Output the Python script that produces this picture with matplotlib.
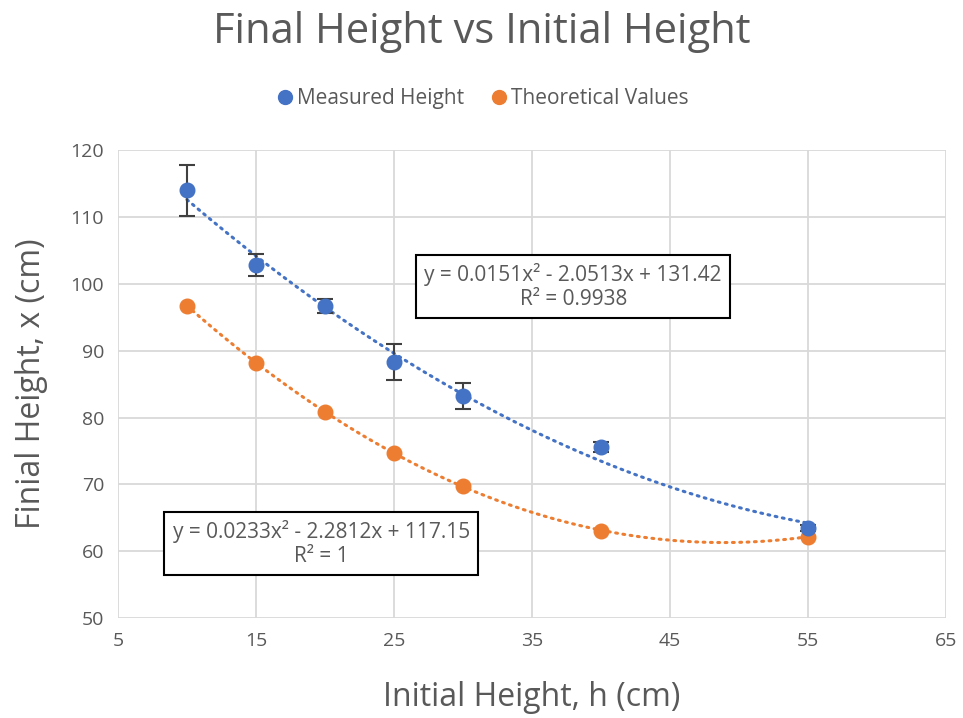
import matplotlib
matplotlib.use('Agg')
import matplotlib.pyplot as plt
from matplotlib.lines import Line2D
import numpy as np

plt.rcParams['font.family'] = ['Open Sans', 'DejaVu Sans']

init_h = [10, 15, 20, 25, 30, 40, 55]
measured = [114.0, 102.8, 96.7, 88.3, 83.2, 75.6, 63.5]
measured_err = [3.8, 1.6, 1.1, 2.7, 1.9, 0.7, 0.4]
theoretical = [96.7, 88.2, 80.9, 74.7, 69.7, 63.1, 62.2]

blue = '#4472c4'
orange = '#ed7d31'
grey = '#595959'

fig = plt.figure(figsize=(9.63, 7.18), dpi=100)
ax = fig.add_axes([0.1225, 0.139, 0.8595, 0.652])

# trendlines (2nd order polynomial, like excel)
xs = np.linspace(min(init_h), max(init_h), 200)
p1 = np.polyfit(init_h, measured, 2)
p2 = np.polyfit(init_h, theoretical, 2)
ax.plot(xs, np.polyval(p1, xs), color=blue, lw=2.2, ls=(0, (0.6, 1.8)),
        dash_capstyle='round', zorder=2)
ax.plot(xs, np.polyval(p2, xs), color=orange, lw=2.2, ls=(0, (0.6, 1.8)),
        dash_capstyle='round', zorder=2)

ax.errorbar(init_h, measured, yerr=measured_err, fmt='o', color=blue,
            ms=10.5, ecolor='#404040', elinewidth=1.5, capsize=6, capthick=1.5,
            zorder=3)
ax.plot(init_h, theoretical, 'o', color=orange, ms=10.5, zorder=3)

ax.set_xlim(5, 65)
ax.set_ylim(50, 120)
ax.set_xticks(np.arange(5, 66, 10))
ax.set_yticks(np.arange(50, 121, 10))
ax.grid(True, color='#d9d9d9', lw=1.3)
ax.set_axisbelow(True)
for s in ax.spines.values():
    s.set_visible(False)
ax.tick_params(length=0, labelsize=14, colors=grey, pad=10)

ax.set_xlabel('Initial Height, h (cm)', fontsize=23, color=grey, labelpad=22)
ax.set_ylabel('Finial Height, x (cm)', fontsize=23, color=grey, labelpad=16)
fig.suptitle('Final Height vs Initial Height', fontsize=30, color=grey, y=0.985)

box = dict(boxstyle='square,pad=0.4', fc='white', ec='black', lw=1.5)
ax.text(38.0, 99.6, 'y = 0.0151x² - 2.0513x + 131.42\nR² = 0.9938',
        ha='center', va='center', fontsize=15, color=grey, bbox=box,
        linespacing=1.15, zorder=4)
ax.text(19.75, 61.15, 'y = 0.0233x² - 2.2812x + 117.15\nR² = 1',
        ha='center', va='center', fontsize=15, color=grey, bbox=box,
        linespacing=1.15, zorder=4)

handles = [Line2D([], [], marker='o', ls='', color=blue, ms=10),
           Line2D([], [], marker='o', ls='', color=orange, ms=10)]
leg = fig.legend(handles, ['Measured Height', 'Theoretical Values'],
                 loc='center', bbox_to_anchor=(0.5, 0.863), ncol=2,
                 frameon=False, fontsize=15, handletextpad=0.05,
                 columnspacing=1.2, handlelength=1.0)
for t in leg.get_texts():
    t.set_color(grey)

fig.savefig('out.png', dpi=100)
